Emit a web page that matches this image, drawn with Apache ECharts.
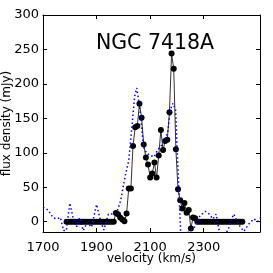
<!DOCTYPE html>
<html><head><meta charset="utf-8">
<script src="https://cdn.jsdelivr.net/npm/echarts@6/dist/echarts.min.js"></script>
<style>html,body{margin:0;padding:0;background:#fff}#c{width:273px;height:273px}</style>
</head><body><div id="c"></div>
<script>
// Black spectrum: channel velocities (km/s) and flux (mJy)
const blackVel = [1788,1796,1804,1812,1820,1828,1836,1844,1852,1860,1868,1876,1884,1892,1900,1908,1916,1924,1932,1940,1948,1956,1964,
  1972,1980,1988,1996,2004,2012,2020,2028,2036,2044,2052,2060,2068,2076,2084,2092,2100,2108,2116,2124,2132,2140,2148,2156,2164,2172,2180,2188,2196,2204,2212,2220,2228,2236,2244,2252,2260,2268,
  2276,2284,2292,2300,2308,2316,2324,2332,2340,2348,2356,2364,2372,2380,2388,2396,2404,2412,2420,2428,2436,2444];
const blackFlux = [0,0,0,0,0,0,0,0,0,0,0,0,0,0,0,0,0,0,0,0,0,0,0,
  12.7,10.7,6,3,0.5,12,48,48,110,137,139,171,151,112,93,83,64,70,86,64,96,133,104,117,119,159,244,222,105,47,31,19,27,13,17,-10,6,5,
  0,0,0,0,0,0,0,0,0,0,0,0,0,0,0,0,0,0,0,0,0,0];
// Blue dotted spectrum
const blueVel = [1700,1719,1737,1752,1765,1777,1787,1800,1812,1825,1837,1850,1865,1881,1900,1915,1927,1944,1962,1977,1990,2006,2020,2032,2042,2050,2062,2075,2087,2102,2115,2127,2140,2152,2165,2175,2185,2195,2206,2214,2231,2250,2265,2281,2294,2306,2321,2334,2346,2359,2375,2390,2404,2412,2425,2437,2450,2469,2487,2502,2512];
const blueFlux = [21,17,6,4,6,-13,-13,27,6,-8,6,-13,-1,-8,25,1,-12,11,11,15,31,65,89,138,182,194,162,109,99,96,94,104,109,118,128,162,172,162,55,-18,-18,-13,-8,6,11,15,11,4,11,-16,-18,-13,4,11,0,-8,-14,-3,4,0,6];
const xTicks = [1700,1900,2100,2300];
const yTicks = [0,50,100,150,200,250,300];
const title = 'NGC 7418A';

const pair = (a,b)=>a.map((v,i)=>[v,b[i]]);
const font = 'DejaVu Sans';
const chart = echarts.init(document.getElementById('c'), null, {renderer:'canvas'});
const line = {show:true, onZero:false, lineStyle:{color:'#000', width:1}};
const xTick = {show:true, inside:true, length:4, lineStyle:{color:'#000',width:1}, customValues:xTicks};
const yTick = {show:true, inside:true, length:4, lineStyle:{color:'#000',width:1}, customValues:yTicks};
chart.setOption({
  animation:false,
  backgroundColor:'#fff',
  title:{text:title, left:150, top:28, textAlign:'center', textStyle:{fontFamily:font, fontSize:20.5, fontWeight:'normal', color:'#000'}},
  grid:{left:43, right:13, top:15, bottom:41, containLabel:false, outerBoundsMode:'none'},
  xAxis:[{
    type:'value', min:1700, max:2510,
    name:'velocity (km/s)', nameLocation:'middle', nameGap:21, nameMoveOverlap:false,
    nameTextStyle:{fontFamily:font, fontSize:12, color:'#000'},
    axisLine:line, axisTick:xTick, splitLine:{show:false},
    axisLabel:{fontFamily:font, fontSize:13, color:'#000', margin:9, customValues:xTicks,
      formatter:v=>String(v), showMinLabel:true, showMaxLabel:true, hideOverlap:false}
  },{
    type:'value', position:'top', min:1700, max:2510,
    axisLine:line, axisTick:xTick, axisLabel:{show:false}, splitLine:{show:false}
  }],
  yAxis:[{
    type:'value', min:-15, max:300,
    name:'flux density (mJy)', nameLocation:'middle', nameGap:30, nameMoveOverlap:false,
    nameTextStyle:{fontFamily:font, fontSize:12, color:'#000'},
    axisLine:line, axisTick:yTick,
    axisLabel:{fontFamily:font, fontSize:13, color:'#000', margin:4, customValues:yTicks, formatter:v=>String(v)},
    splitLine:{show:false}
  },{
    type:'value', position:'right', min:-15, max:300,
    axisLine:line, axisTick:yTick, axisLabel:{show:false}, splitLine:{show:false}
  }],
  series:[{
    type:'line', data:pair(blackVel,blackFlux), xAxisIndex:0, yAxisIndex:0,
    symbol:'circle', symbolSize:6, showAllSymbol:true,
    itemStyle:{color:'#000'}, lineStyle:{color:'#333', width:1}, z:2
  },{
    type:'line', data:pair(blueVel,blueFlux), xAxisIndex:0, yAxisIndex:0,
    symbol:'none', lineStyle:{color:'#0000ff', width:1.5, type:[1.5,2.5]}, z:3
  }]
});
</script></body></html>
